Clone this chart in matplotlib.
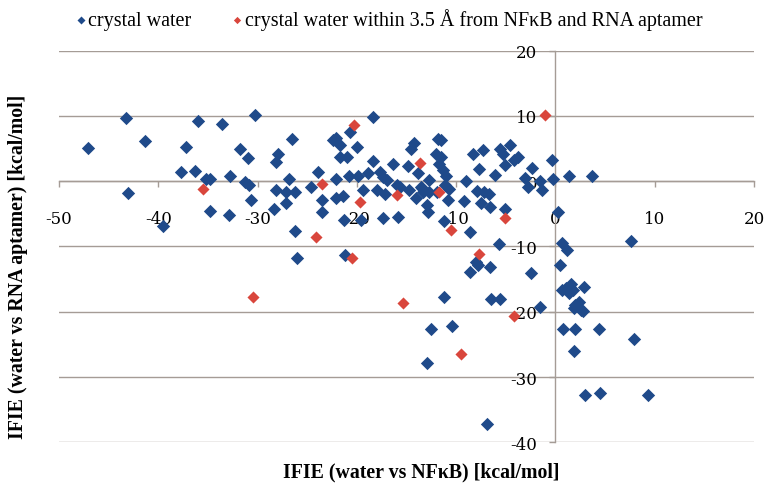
import matplotlib
matplotlib.use("Agg")
import matplotlib.pyplot as plt

plt.rcParams['axes.unicode_minus'] = False
plt.rcParams['font.family'] = ['DejaVu Serif']

# crystal water (blue)
blue_x = [-47.1, -43.3, -43.0, -41.3, -39.5, -37.7, -37.2, -36.3, -36.0, -35.2,
          -34.8, -34.8, -33.6, -32.9, -32.8, -31.8, -31.3, -31.0, -30.9, -30.7,
          -30.3, -28.3, -28.1, -28.1, -27.9, -27.1, -27.1, -26.8, -26.5, -26.2,
          -26.2, -26.0, -24.6, -23.9, -23.5, -23.5, -22.4, -22.1, -21.7, -22.1,
          -22.1, -21.7, -21.4, -21.3, -21.2, -21.0, -20.8, -20.7, -20.0, -19.9,
          -19.6, -19.4, -18.9, -18.4, -18.4, -18.0, -17.7, -17.4, -17.4, -17.2,
          -17.0, -16.4, -16.0, -15.9, -15.7, -14.7, -13.4, -12.7, -11.9,
          -14.8, -14.5, -14.2, -14.0, -13.8, -13.5, -13.3, -12.9, -12.8, -12.7,
          -12.0, -11.8, -11.5, -11.7, -11.5, -11.3, -11.1, -11.2, -11.0, -10.8,
          -10.7, -9.0, -9.2, -8.6, -8.3, -7.9, -7.7, -7.5, -7.3, -7.2,
          -6.7, -6.6, -6.1, -5.6, -5.3, -5.1, -5.1, -4.6, -4.2, -3.8,
          -3.1, -2.8, -2.4, -1.6, -1.3, -0.3, -0.2, 0.3, 1.4, 3.7,
          -11.2, -12.5, -5.7, -8.0, -7.8, -8.6, -6.6, -2.5, -6.5, -5.6,
          -1.6, -10.4, -6.9, -12.9, 0.7, 1.2, 0.5, 0.7, 1.1, 1.6,
          1.8, 1.4, 2.9, 2.0, 2.4, 2.6, 1.9, 2.8, 0.8, 2.0,
          4.4, 1.9, 3.0, 4.5, 7.6, 7.9, 9.3]
blue_y = [5.1, 9.75, -1.8, 6.2, -6.8, 1.4, 5.3, 1.5, 9.2, 0.4,
          0.4, -4.6, 8.8, -5.2, 0.8, 5.0, -0.1, 3.6, -0.6, -2.9,
          10.2, -4.3, -1.4, 3.0, 4.1, -1.6, -3.4, 0.4, 6.4, -1.7,
          -7.7, -11.7, -0.9, 1.4, -2.9, -4.7, 6.3, 6.7, 5.6, 0.4,
          -2.5, 3.7, -2.3, -6.0, -11.3, 3.7, 0.8, 7.5, 5.3, 0.8,
          -6.0, -1.4, 1.2, 9.9, 3.1, -1.4, 1.4, 0.7, -5.7, -1.9,
          0.2, 2.6, -0.6, -5.5, -0.9, -1.3, -1.1, -1.6, -1.6,
          2.4, 4.9, 5.8, -2.6, 1.2, -0.9, -1.7, -3.7, -4.7, 0.2,
          4.2, 6.5, 6.3, 2.7, 3.7, 1.7, -0.6, -6.1, 0.8, -2.9,
          -1.2, 0.0, -3.0, -7.8, 4.2, -1.5, 1.8, -3.4, 4.8, -1.6,
          -1.9, -3.9, 0.9, 5.0, 4.2, 2.5, -4.2, 5.5, 3.2, 3.7,
          0.5, -0.9, 2.0, 0.0, -1.4, 3.2, 0.4, -4.7, 0.8, 0.8,
          -17.7, -22.7, -9.6, -12.3, -12.9, -13.9, -13.1, -14.0, -18.1, -18.1,
          -19.3, -22.2, -37.2, -27.8, -9.4, -10.5, -12.9, -16.7, -16.3, -15.7,
          -16.6, -17.2, -16.2, -19.0, -18.5, -19.8, -19.5, -19.9, -22.7, -22.7,
          -22.7, -26.0, -32.8, -32.4, -9.2, -24.2, -32.7]

# crystal water within 3.5 A (red)
red_x = [-35.5, -30.5, -24.1, -23.5, -20.3, -20.5, -19.7, -16.0, -15.4,
         -13.6, -11.7, -10.5, -7.7, -5.1, -4.2, -9.5, -1.0]
red_y = [-1.2, -17.8, -8.6, -0.5, 8.6, -11.7, -3.2, -2.1, -18.6,
         2.8, -1.7, -7.4, -11.1, -5.7, -20.7, -26.5, 10.2]

blue = '#1F4A8A'
red = '#D9463C'
grid_c = '#A59C96'

fig = plt.figure(figsize=(7.66, 4.85), dpi=100)
ax = fig.add_axes([0.077, 0.086, 0.9073, 0.8074])

ax.scatter(blue_x, blue_y, marker='D', s=46, color=blue, linewidths=0,
           zorder=3, label='crystal water')
ax.scatter(red_x, red_y, marker='D', s=38, color=red, linewidths=0,
           zorder=3, label='crystal water within 3.5 Å from NFκB and RNA aptamer')

ax.set_xlim(-50, 20)
ax.set_ylim(-40, 20)
ax.set_xticks(range(-50, 21, 10))
ax.set_yticks(range(-40, 21, 10))

ax.spines['left'].set_position(('data', 0))
ax.spines['bottom'].set_position(('data', 0))
ax.spines['top'].set_visible(False)
ax.spines['right'].set_visible(False)
for sp in ['left', 'bottom']:
    ax.spines[sp].set_color(grid_c)
    ax.spines[sp].set_linewidth(1)

ax.yaxis.grid(True, color=grid_c, linewidth=1)
ax.set_axisbelow(True)
ax.tick_params(axis='x', direction='out', length=4, width=1, color=grid_c,
               pad=17, labelsize=12)
ax.tick_params(axis='y', direction='out', length=4, width=1, color=grid_c,
               pad=9, labelsize=12)

fig.text(0.55, 0.025, 'IFIE (water vs NFκB) [kcal/mol]', ha='center',
         va='center', fontsize=14.3, fontweight='bold', family='Liberation Serif')
fig.text(0.024, 0.45, 'IFIE (water vs RNA aptamer) [kcal/mol]', ha='center',
         va='center', rotation=90, fontsize=14.3, fontweight='bold',
         family='Liberation Serif')

fig.legend(loc='center left', bbox_to_anchor=(0.074, 0.958), ncol=2,
           frameon=False, handletextpad=0.05, columnspacing=2.0,
           handlelength=0.6, prop={'family': 'Liberation Serif', 'size': 14.5},
           markerscale=0.6)

fig.savefig('out.png', dpi=100)
